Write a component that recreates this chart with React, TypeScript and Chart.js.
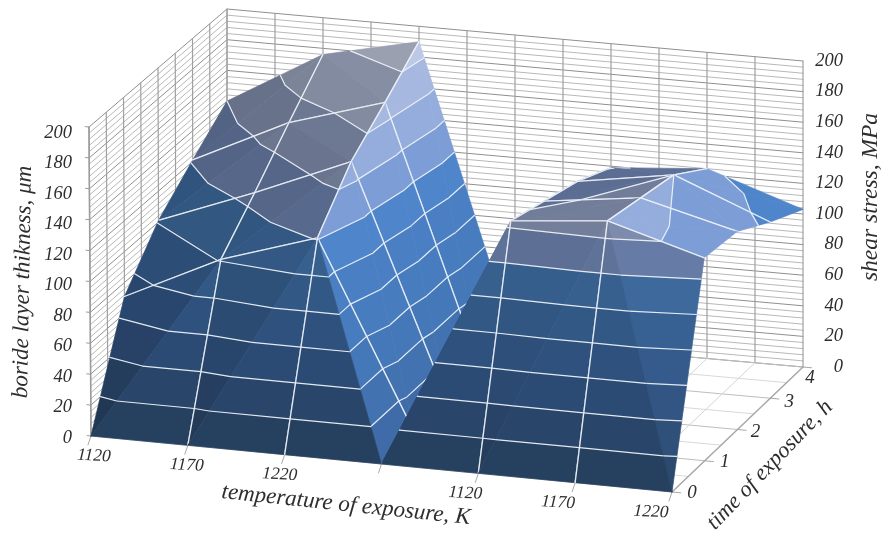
import React, { useEffect, useRef } from "react";
import { Chart, registerables } from "chart.js";

Chart.register(...registerables);

const temperatureLabels = ["1120", "1170", "1220", "", "1120", "1170", "1220"];
const timeLabels = ["0", "1", "2", "3", "4"];
const valueTicks = [0, 20, 40, 60, 80, 100, 120, 140, 160, 180, 200];
const contourLevels = [20, 40, 60, 80, 100, 120, 140, 160, 180];

const time0 = [0, 0, 0, 0, 0, 0, 0];
const time1 = [71, 101, 121, 0, 144, 150, 132];
const time2 = [101, 125, 151, 0, 137, 145, 129];
const time3 = [121, 151, 170, 0, 130, 140, 115];
const time4 = [140, 176, 190, 0, 119, 124, 103];
const surface = [time0, time1, time2, time3, time4];

const shadeBands = ["#26405f", "#294569", "#2c4b74", "#2f517d", "#325885", "#37608f", "#5f7298", "#76829e", "#8d96ac", "#a3a9ba"];
const lightBands = ["#3f6ca8", "#4273b0", "#4478b8", "#477dbf", "#4a80c3", "#4f85ca", "#7c9dd6", "#95addc", "#a6b8e0", "#bcc8e6"];

type V = { c: number; t: number; z: number };
const W = 883;
const H = 533;
const cMax = temperatureLabels.length - 1;
const tMax = timeLabels.length - 1;
const zMax = 200;

// camera corners of the plot box
const floorC = { fl: [91, 436], fr: [672, 492], br: [803, 367], bl: [227, 316] };
const topC = { fl: [89, 127], fr: [671, 184], br: [803, 61], bl: [227, 9] };

function project(c: number, t: number, z: number) {
  const u = c / cMax, v = t / tMax, w = z / zMax;
  const bi = (q: typeof floorC, i: number) =>
    (1 - u) * (1 - v) * q.fl[i] + u * (1 - v) * q.fr[i] + u * v * q.br[i] + (1 - u) * v * q.bl[i];
  return { x: bi(floorC, 0) * (1 - w) + bi(topC, 0) * w, y: bi(floorC, 1) * (1 - w) + bi(topC, 1) * w };
}

const hex = (s: string) => [1, 3, 5].map((i) => parseInt(s.slice(i, i + 2), 16));
const clamp = (x: number, a: number, b: number) => Math.max(a, Math.min(b, x));

function bandColor(band: number, a: number, b: number) {
  const w = clamp(-a / (12 + Math.abs(b) * 0.5), 0, 1);
  const f = 1 - clamp(a * 0.004, 0, 0.13);
  const d = hex(shadeBands[band]), l = hex(lightBands[band]);
  const m = d.map((x, i) => Math.round((x + (l[i] - x) * w) * f));
  return `rgb(${m[0]},${m[1]},${m[2]})`;
}

function clipZ(poly: V[], level: number, keepAbove: boolean): V[] {
  const out: V[] = [];
  for (let i = 0; i < poly.length; i++) {
    const p = poly[i], q = poly[(i + 1) % poly.length];
    const pIn = keepAbove ? p.z >= level : p.z <= level;
    const qIn = keepAbove ? q.z >= level : q.z <= level;
    if (pIn) out.push(p);
    if (pIn !== qIn) {
      const k = (level - p.z) / (q.z - p.z);
      out.push({ c: p.c + (q.c - p.c) * k, t: p.t + (q.t - p.t) * k, z: level });
    }
  }
  return out;
}

const lineDs = (pts: { x: number; y: number }[], color: string, width: number, extra: object = {}) => ({
  data: pts,
  showLine: true,
  pointRadius: 0,
  borderColor: color,
  borderWidth: width,
  tension: 0,
  fill: false,
  ...extra,
});

function polyline(verts: V[]) {
  return verts.map((v) => project(v.c, v.t, v.z));
}

function buildDatasets() {
  const ds: any[] = [];
  const GRID = "#b8b8b8", MAJOR = "#8f8f8f", VERT = "#a0a0a0";
  // walls
  for (let i = 0; i <= 50; i++) {
    const z = i * 4;
    const major = i % 5 === 0;
    ds.push(lineDs(polyline([{ c: 0, t: 0, z }, { c: 0, t: tMax, z }, { c: cMax, t: tMax, z }]), major ? MAJOR : GRID, 1));
  }
  for (let k = 0; k <= tMax * 2; k++) {
    const t = k / 2;
    ds.push(lineDs(polyline([{ c: 0, t, z: 0 }, { c: 0, t, z: zMax }]), VERT, 1.2));
  }
  for (let k = 0; k <= cMax * 2; k++) {
    const c = k / 2;
    ds.push(lineDs(polyline([{ c, t: tMax, z: 0 }, { c, t: tMax, z: zMax }]), VERT, 1.2));
  }
  // floor
  for (let k = 0; k <= tMax * 2; k++) {
    const t = k / 2;
    ds.push(lineDs(polyline([{ c: 0, t, z: 0 }, { c: cMax, t, z: 0 }]), k % 2 ? "#d8d8d8" : "#bdbdbd", 1));
  }
  for (let k = 0; k <= cMax * 2; k++) {
    const c = k / 2;
    ds.push(lineDs(polyline([{ c, t: 0, z: 0 }, { c, t: tMax, z: 0 }]), "#d4d4d4", 1));
  }
  // axes and ticks
  ds.push(lineDs(polyline([{ c: cMax, t: 0, z: 0 }, { c: cMax, t: tMax, z: 0 }]), "#a8a8a8", 1.5));
  ds.push(lineDs(polyline([{ c: 0, t: 0, z: 0 }, { c: 0, t: 0, z: zMax }]), "#9c9c9c", 1.5));
  valueTicks.forEach((z) => {
    ds.push(lineDs(polyline([{ c: 0, t: 0, z }, { c: -0.04, t: 0, z }]), "#9c9c9c", 1));
  });
  temperatureLabels.forEach((_, c) => {
    ds.push(lineDs(polyline([{ c, t: 0, z: 0 }, { c, t: -0.09, z: -4 }]), "#a8a8a8", 1));
  });
  timeLabels.forEach((_, t) => {
    ds.push(lineDs(polyline([{ c: cMax, t, z: 0 }, { c: cMax + 0.09, t, z: 0 }]), "#a8a8a8", 1));
  });

  // surface, far to near
  const WHITE = "rgba(236,241,248,0.95)";
  const vert = (c: number, t: number): V => ({ c, t, z: surface[t][c] });
  const isMeshEdge = (m: V, n: V) => {
    if (m.c !== n.c && m.t !== n.t) return false; // fold diagonal
    if (m.t === n.t) return m.t > 0 && m.t < tMax;
    return m.c > 0 && m.c < cMax;
  };
  for (let t = tMax - 1; t >= 0; t--) {
    for (let c = 0; c < cMax; c++) {
      const a = vert(c, t), b = vert(c + 1, t), d = vert(c + 1, t + 1), e = vert(c, t + 1);
      const tris: V[][] = a.z + d.z >= b.z + e.z ? [[a, e, d], [a, b, d]] : [[b, d, e], [a, b, e]];
      tris.forEach((tri) => {
        const [p, q, r] = tri;
        const ux = q.c - p.c, uy = q.t - p.t, uz = q.z - p.z;
        const vx = r.c - p.c, vy = r.t - p.t, vz = r.z - p.z;
        const nx = uy * vz - uz * vy, ny = uz * vx - ux * vz, nz = ux * vy - uy * vx;
        const sa = -nx / nz, sb = -ny / nz;
        for (let band = 0; band < shadeBands.length; band++) {
          const lo = band * 20, hi = lo + 20;
          const slice = clipZ(clipZ(tri, lo, true), hi, false);
          if (slice.length < 3) continue;
          const col = bandColor(band, sa, sb);
          const pts = polyline(slice);
          pts.push(pts[0]);
          ds.push(lineDs(pts, col, 0.7, { polyFill: col }));
        }
        contourLevels.forEach((lv) => {
          const hits: V[] = [];
          for (let i = 0; i < 3; i++) {
            const m = tri[i], n = tri[(i + 1) % 3];
            if ((m.z - lv) * (n.z - lv) < 0 || (m.z === lv && n.z !== lv)) {
              const k = (lv - m.z) / (n.z - m.z);
              hits.push({ c: m.c + (n.c - m.c) * k, t: m.t + (n.t - m.t) * k, z: lv });
            }
          }
          if (hits.length >= 2) ds.push(lineDs(polyline(hits.slice(0, 2)), WHITE, 1.2));
        });
        for (let i = 0; i < 3; i++) {
          const m = tri[i], n = tri[(i + 1) % 3];
          if (isMeshEdge(m, n)) ds.push(lineDs(polyline([m, n]), WHITE, 1.3));
        }
      });
    }
  }
  return ds.reverse();
}

const polygonFill = {
  id: "polygonFill",
  beforeDatasetDraw(chart: any, args: any) {
    const fillColor = chart.data.datasets[args.index].polyFill;
    if (!fillColor) return;
    const ctx = chart.ctx;
    ctx.save();
    ctx.fillStyle = fillColor;
    ctx.beginPath();
    args.meta.data.forEach((el: any, i: number) => (i ? ctx.lineTo(el.x, el.y) : ctx.moveTo(el.x, el.y)));
    ctx.closePath();
    ctx.fill();
    ctx.restore();
  },
};

function text(ctx: CanvasRenderingContext2D, s: string, x: number, y: number, size: number, angle = 0, align: CanvasTextAlign = "center") {
  ctx.save();
  ctx.translate(x, y);
  ctx.rotate((angle * Math.PI) / 180);
  ctx.font = `italic ${size}px "Liberation Serif"`;
  ctx.textAlign = align;
  ctx.textBaseline = "middle";
  ctx.fillStyle = "#2e2e2e";
  ctx.fillText(s, 0, 0);
  ctx.restore();
}

const timeOffsets = [[20, 1], [20, 1], [18, 2], [19, 4], [7, 11]];

const labels3d = {
  id: "labels3d",
  afterDraw(chart: any) {
    const ctx = chart.ctx as CanvasRenderingContext2D;
    valueTicks.forEach((z) => {
      const l = project(0, 0, z);
      text(ctx, String(z), 72, l.y + 2 + z * 0.02, 18.5, 0, "right");
      const r = project(cMax, tMax, z);
      text(ctx, String(z), 843, r.y, 18.5, 0, "right");
    });
    temperatureLabels.forEach((s, c) => {
      if (!s) return;
      const p = project(c, 0, 0);
      text(ctx, s, p.x + 3 - c * 4, p.y + 20, 17.5, 3);
    });
    timeLabels.forEach((s, t) => {
      const p = project(cMax, t, 0);
      text(ctx, s, p.x + timeOffsets[t][0], p.y + timeOffsets[t][1], 19);
    });
    text(ctx, "boride layer thikness, \u03bcm", 23, 282, 23, -89);
    text(ctx, "shear stress, MPa", 871, 197, 23.5, -90);
    text(ctx, "temperature of exposure, K", 346, 505, 23, 6);
    text(ctx, "time of exposure, h", 770, 465, 22.5, -46);
  },
};

export default function App() {
  const ref = useRef<HTMLCanvasElement>(null);
  useEffect(() => {
    const chart = new Chart(ref.current as HTMLCanvasElement, {
      type: "scatter",
      data: { datasets: buildDatasets() },
      plugins: [polygonFill, labels3d],
      options: {
        animation: false,
        responsive: false,
        devicePixelRatio: 1,
        layout: { padding: 0 },
        elements: { line: { capBezierPoints: false, borderCapStyle: "round", borderJoinStyle: "round" } },
        plugins: { legend: { display: false }, tooltip: { enabled: false } },
        scales: {
          x: { type: "linear", min: 0, max: W, display: false },
          y: { type: "linear", min: 0, max: H, reverse: true, display: false },
        },
      },
    } as any);
    return () => chart.destroy();
  }, []);
  return <canvas ref={ref} width={W} height={H} style={{ position: "fixed", left: 0, top: 0, background: "#fff", filter: "blur(0.4px)" }} />;
}
